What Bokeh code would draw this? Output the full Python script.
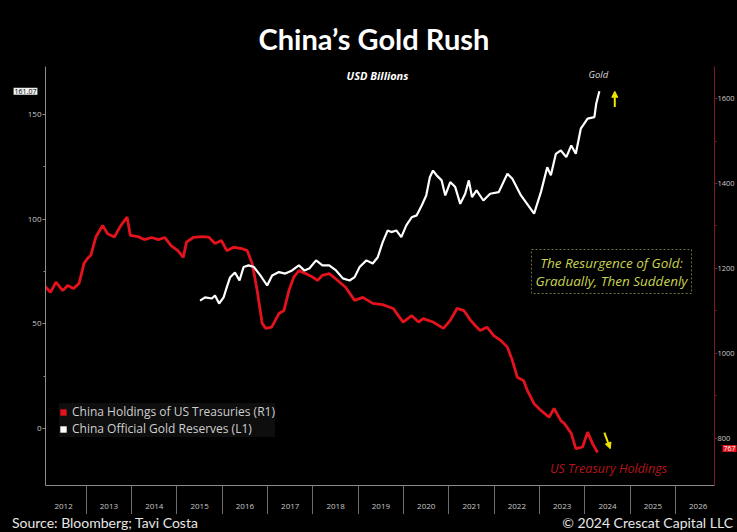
from bokeh.plotting import figure
from bokeh.layouts import column
from bokeh.models import (Range1d, LinearAxis, FixedTicker, Label, Legend, LegendItem,
                          Arrow, NormalHead, Div)
from bokeh.embed import file_html
from bokeh.resources import INLINE

# ---------------- data ----------------
years = list(range(2012, 2027))

tsy_dates = [2012.00, 2012.21, 2012.33, 2012.48, 2012.59, 2012.72, 2012.84, 2012.95,
             2013.03, 2013.10, 2013.21, 2013.36, 2013.47, 2013.62, 2013.76, 2013.90,
             2013.97, 2014.14, 2014.28, 2014.44, 2014.59, 2014.73, 2014.87, 2015.02,
             2015.14, 2015.21, 2015.36, 2015.55, 2015.70, 2015.84, 2015.98, 2016.10,
             2016.25, 2016.43, 2016.55, 2016.66, 2016.77, 2016.88, 2016.96, 2017.09,
             2017.25, 2017.36, 2017.47, 2017.58, 2017.69, 2017.84, 2017.99, 2018.10,
             2018.21, 2018.36, 2018.50, 2018.72, 2018.92, 2019.10, 2019.32, 2019.54,
             2019.77, 2019.99, 2020.18, 2020.33, 2020.43, 2020.65, 2020.88, 2021.03,
             2021.18, 2021.33, 2021.48, 2021.58, 2021.69, 2021.84, 2021.99, 2022.14,
             2022.29, 2022.40, 2022.51, 2022.65, 2022.73, 2022.88, 2023.03, 2023.21,
             2023.32, 2023.47, 2023.55, 2023.70, 2023.80, 2023.95, 2024.06, 2024.17,
             2024.28]
tsy_values = [1168, 1144, 1168, 1148, 1160, 1153, 1165, 1212,
              1224, 1231, 1274, 1301, 1282, 1274, 1301, 1321,
              1278, 1275, 1268, 1273, 1268, 1273, 1254, 1242,
              1226, 1262, 1273, 1275, 1274, 1259, 1266, 1242,
              1250, 1247, 1242, 1212, 1148, 1071, 1059, 1062,
              1094, 1101, 1148, 1180, 1195, 1188, 1180, 1172,
              1184, 1188, 1176, 1156, 1125, 1132, 1118, 1115,
              1106, 1074, 1089, 1074, 1082, 1074, 1059, 1078,
              1106, 1101, 1078, 1066, 1054, 1062, 1042, 1031,
              1015, 984, 944, 936, 913, 882, 866, 850,
              871, 842, 835, 812, 776, 780, 815, 788,
              767]

gold_dates = [2015.51, 2015.62, 2015.77, 2015.84, 2015.93, 2016.03, 2016.10, 2016.17,
              2016.28, 2016.38, 2016.47, 2016.58, 2016.70, 2016.84, 2016.99, 2017.10,
              2017.25, 2017.39, 2017.54, 2017.69, 2017.81, 2017.92, 2018.07, 2018.21,
              2018.36, 2018.51, 2018.66, 2018.81, 2018.92, 2019.03, 2019.18, 2019.32,
              2019.43, 2019.54, 2019.65, 2019.73, 2019.84, 2019.95, 2020.06, 2020.18,
              2020.29, 2020.40, 2020.50, 2020.58, 2020.65, 2020.73, 2020.84, 2020.92,
              2021.03, 2021.14, 2021.25, 2021.36, 2021.44, 2021.51, 2021.61, 2021.76,
              2021.91, 2022.10, 2022.29, 2022.40, 2022.59, 2022.88, 2023.03, 2023.17,
              2023.25, 2023.36, 2023.47, 2023.59, 2023.70, 2023.80, 2023.91, 2024.06,
              2024.21, 2024.25, 2024.32]
gold_values = [61.1, 62.6, 62.1, 63.5, 59.7, 62.6, 67.5, 72.1,
               74.5, 70.7, 77.1, 77.9, 77.1, 73.1, 68.3, 73.1,
               74.7, 74.0, 75.5, 77.9, 75.5, 76.4, 80.3, 77.9,
               77.9, 75.5, 71.7, 70.7, 72.3, 77.1, 80.3, 78.8,
               81.8, 89.0, 94.6, 93.8, 94.6, 91.4, 97.0, 100.9,
               101.8, 106.5, 111.3, 120.0, 123.2, 120.9, 118.5, 111.3,
               117.7, 115.3, 107.3, 112.1, 118.5, 110.5, 113.7, 108.9,
               112.1, 112.9, 121.7, 119.3, 111.3, 102.6, 112.9, 124.8,
               120.9, 131.2, 132.8, 129.6, 135.2, 131.2, 143.2, 148.0,
               148.7, 155.1, 161.07]

left_ticks = [0, 50, 100, 150]
left_minor = [25, 75, 125]
right_ticks = [800, 1000, 1200, 1400, 1600]
right_minor = [900, 1100, 1300, 1500]

RED = "#e3121c"
YELLOW = "#f2e400"
AXIS_TXT = "#c8c8c8"

p = figure(width=737, height=514, output_backend="svg", toolbar_location=None,
           x_range=Range1d(2012.10, 2026.86), y_range=Range1d(-27.23, 172.9),
           min_border_left=43, min_border_right=22, min_border_top=66, min_border_bottom=29,
           background_fill_color="black", border_fill_color="black",
           outline_line_color=None)
p.outline_line_alpha = 0
p.outline_line_width = 0
p.extra_y_ranges = {"tsy": Range1d(689.4, 1675.3)}
p.xgrid.visible = False
p.ygrid.visible = False

# title
p.title.text = "China\u2019s Gold Rush"
p.title.align = "left"
p.title.offset = 213
p.title.text_color = "white"
p.title.text_font = "Lato"
p.title.text_font_style = "bold"
p.title.text_font_size = "29px"
p.title.standoff = 8

# x axis: labels centred in each year, separators at year boundaries
xa = p.xaxis[0]
xa.ticker = FixedTicker(ticks=[y + 0.5 for y in years], minor_ticks=years + [years[-1] + 1])
xa.major_label_overrides = {y + 0.5: str(y) for y in years}
xa.major_tick_out = 0
xa.major_tick_in = 0
xa.minor_tick_out = 33
xa.minor_tick_in = 0
xa.minor_tick_line_color = "#6e6e6e"
xa.axis_line_color = "#8c8c8c"
xa.major_label_standoff = -15
xa.major_label_text_font = "Open Sans"
xa.major_label_text_font_size = "8px"
xa.major_label_text_color = AXIS_TXT

# left axis (gold)
ya = p.yaxis[0]
ya.ticker = FixedTicker(ticks=left_ticks, minor_ticks=left_minor)
ya.axis_line_color = "#8c8c8c"
ya.major_tick_line_color = "#8c8c8c"
ya.minor_tick_line_color = "#8c8c8c"
ya.major_tick_out = 3
ya.major_tick_in = 0
ya.minor_tick_out = 2
ya.minor_tick_in = 0
ya.major_label_standoff = 1
ya.major_label_text_font = "Open Sans"
ya.major_label_text_font_size = "8px"
ya.major_label_text_color = AXIS_TXT

# right axis (treasuries)
ra = LinearAxis(y_range_name="tsy", ticker=FixedTicker(ticks=right_ticks, minor_ticks=right_minor))
ra.axis_line_color = "#7a1a22"
ra.major_tick_line_color = "#7a1a22"
ra.minor_tick_line_color = "#7a1a22"
ra.major_tick_out = 3
ra.major_tick_in = 0
ra.minor_tick_out = 2
ra.minor_tick_in = 0
ra.major_label_standoff = 0
ra.major_label_text_font = "Open Sans"
ra.major_label_text_font_size = "7.5px"
ra.major_label_text_color = AXIS_TXT
p.add_layout(ra, "right")

# lines
p.line(tsy_dates, tsy_values, y_range_name="tsy", line_color=RED, line_width=2.8)
p.line(gold_dates, gold_values, line_color="white", line_width=2.2)

# legend with square swatches (zero-area quads, only used for the legend swatch)
rq = p.quad(left=tsy_dates[:1], right=tsy_dates[:1], top=tsy_values[:1], bottom=tsy_values[:1],
            y_range_name="tsy", fill_color=RED, line_color=None)
wq = p.quad(left=gold_dates[:1], right=gold_dates[:1], top=gold_values[:1], bottom=gold_values[:1],
            fill_color="white", line_color=None)
legend = Legend(items=[LegendItem(label="China Holdings of US Treasuries (R1)", renderers=[rq]),
                       LegendItem(label="China Official Gold Reserves (L1)", renderers=[wq])],
                location=(14, 48), background_fill_color="#0e0e0e", background_fill_alpha=1,
                border_line_color=None, label_text_color="#cfcfcf", label_text_font="Open Sans",
                label_text_font_size="12px", glyph_width=8, glyph_height=8, label_height=13,
                label_standoff=5, spacing=0, padding=5, margin=0)
p.add_layout(legend)

# value boxes on the axes (in side panels so they are not clipped by the frame)
p.add_layout(Label(x=p.x_range.start, y=gold_values[-1], x_offset=-20, text=f"{gold_values[-1]:.2f}",
                   text_align="center", text_baseline="middle", text_font="Open Sans",
                   text_font_size="7px", text_color="black", background_fill_color="#f0f0f0",
                   padding=1), "left")
p.add_layout(Label(x=p.x_range.end, y=tsy_values[-1], y_range_name="tsy", x_offset=15, y_offset=4,
                   text=f"{tsy_values[-1]}", text_align="center", text_baseline="middle",
                   text_font="Open Sans", text_font_size="7px", text_color="white",
                   background_fill_color=RED, padding=1), "above")

# annotations inside the plot
p.add_layout(Label(x=332, y=410, x_units="screen", y_units="screen", text="USD Billions",
                   text_align="center", text_baseline="middle", text_font="Open Sans",
                   text_font_style="bold italic", text_font_size="11px", text_color="white"))
p.add_layout(Label(x=gold_dates[-1], y=gold_values[-1], x_offset=-1, y_offset=17, text="Gold",
                   text_align="center", text_baseline="middle", text_font="Open Sans",
                   text_font_style="italic", text_font_size="9.5px", text_color="#dddddd"))
p.add_layout(Label(x=563, y=17, x_units="screen", y_units="screen", text="US Treasury Holdings",
                   text_align="center", text_baseline="middle", text_font="Open Sans",
                   text_font_style="italic", text_font_size="12.5px", text_color="#b8121a"))
p.add_layout(Label(x=566, y=214, x_units="screen", y_units="screen",
                   text="The Resurgence of Gold:\nGradually, Then Suddenly",
                   text_align="center", text_baseline="middle", text_font="Open Sans",
                   text_font_style="italic", text_font_size="13.5px", text_color="#c9d34f",
                   text_line_height=1.0, border_line_color="#6f6f3c", border_line_dash="2 2",
                   border_line_width=1, background_fill_color="black", padding=4))

p.add_layout(Arrow(x_start=gold_dates[-1] + 0.34, y_start=gold_values[-1] - 7.5,
                   x_end=gold_dates[-1] + 0.34, y_end=gold_values[-1],
                   line_color=YELLOW, line_width=2,
                   end=NormalHead(size=6, fill_color=YELLOW, line_color=YELLOW)))
p.add_layout(Arrow(x_start=tsy_dates[-1] + 0.15, y_start=tsy_values[-1] + 47,
                   x_end=tsy_dates[-1] + 0.28, y_end=tsy_values[-1] + 9, y_range_name="tsy",
                   line_color=YELLOW, line_width=2,
                   end=NormalHead(size=6, fill_color=YELLOW, line_color=YELLOW)))

# footer
footer = Div(text=('<div style="display:flex;justify-content:space-between;align-items:center;'
                   'width:737px;height:18px;box-sizing:border-box;padding:0 4px 0 12px;'
                   'font-family:Lato;font-size:14px;color:#e6e6e6;background:#000;">'
                   '<span>Source: Bloomberg; Tavi Costa</span>'
                   '<span>\u00a9 2024 Crescat Capital LLC</span></div>'),
             width=737, height=18, margin=0, styles={"background-color": "black"})

layout = column(p, footer, spacing=0, styles={"background-color": "black"})

html = file_html(layout, INLINE, title="China's Gold Rush")
html = html.replace("<body>", '<body style="background-color:#000000;">', 1)
open("out.html", "w").write(html)
